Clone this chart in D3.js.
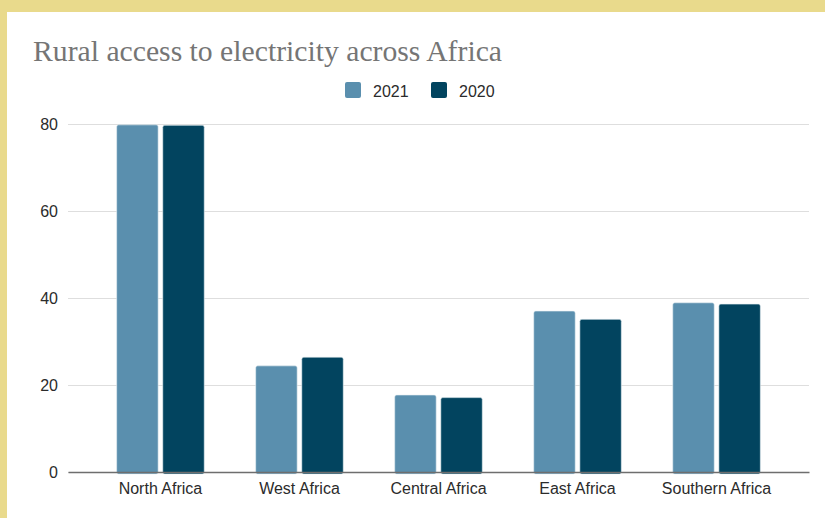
<!DOCTYPE html>
<html>
<head>
  <meta charset="utf-8">
  <title>Rural access to electricity across Africa</title>
  <script src="https://d3js.org/d3.v7.min.js"></script>
  <style>
    html, body { margin: 0; padding: 0; background: #e9da8c; }
    svg { display: block; }
  </style>
</head>
<body>
<div id="chart"></div>
<script>
  // data
  var regions = ["North Africa", "West Africa", "Central Africa", "East Africa", "Southern Africa"];
  var years = ["2021", "2020"];
  var values2021 = [79.8, 24.4, 17.7, 37.0, 38.9];
  var values2020 = [79.7, 26.4, 17.1, 35.1, 38.6];
  var yTicks = [0, 20, 40, 60, 80];
  var colors = ["#5a8fae", "#02445f"];

  var W = 825, H = 518;
  var margin = { top: 124, right: 16, bottom: 46, left: 68 };

  var svg = d3.select("#chart").append("svg")
    .attr("width", W)
    .attr("height", H);

  // white card on the yellow frame
  svg.append("rect")
    .attr("x", 7).attr("y", 12)
    .attr("width", W - 7).attr("height", H - 12)
    .attr("fill", "#ffffff");

  var x0 = d3.scaleBand()
    .domain(regions)
    .range([margin.left, W - margin.right])
    .paddingInner(0.37)
    .paddingOuter(0.35);

  var x1 = d3.scaleBand()
    .domain(years)
    .range([0, x0.bandwidth()])
    .paddingInner(0.1);

  var y = d3.scaleLinear()
    .domain([0, 80])
    .range([H - margin.bottom, margin.top]);

  // gridlines + y labels
  var yAxis = svg.append("g")
    .attr("transform", "translate(" + margin.left + ",0)")
    .call(d3.axisLeft(y)
      .tickValues(yTicks)
      .tickSize(-(W - margin.right - margin.left))
      .tickPadding(10));
  yAxis.select(".domain").remove();
  yAxis.selectAll(".tick line").attr("stroke", "#dedede").attr("stroke-width", 1.2);
  yAxis.selectAll(".tick text")
    .attr("fill", "#2b2b2b")
    .style("font-family", "Liberation Sans, Arial, sans-serif")
    .style("font-size", "16px");

  // bars
  var rows = regions.map(function (r, i) {
    return { region: r, vals: [values2021[i], values2020[i]] };
  });

  var groups = svg.append("g").selectAll("g")
    .data(rows)
    .join("g")
    .attr("transform", function (d) { return "translate(" + x0(d.region) + ",0)"; });

  groups.selectAll("rect")
    .data(function (d) { return d.vals.map(function (v, j) { return { year: years[j], v: v, j: j }; }); })
    .join("rect")
    .attr("x", function (d) { return x1(d.year); })
    .attr("y", function (d) { return y(d.v); })
    .attr("width", x1.bandwidth())
    .attr("height", function (d) { return y(0) - y(d.v) + 2; })
    .attr("rx", 2)
    .attr("fill", function (d) { return colors[d.j]; })
    .attr("stroke", "#e8f0f4")
    .attr("stroke-width", 0.6);

  // x axis baseline + labels
  var xAxis = svg.append("g")
    .attr("transform", "translate(0," + y(0) + ")")
    .call(d3.axisBottom(x0).tickSize(0).tickPadding(11));
  xAxis.select(".domain").attr("stroke", "#6e6e6e").attr("stroke-width", 1.5);
  xAxis.selectAll(".tick text")
    .attr("fill", "#2b2b2b")
    .style("font-family", "Liberation Sans, Arial, sans-serif")
    .style("font-size", "16px");

  // title
  svg.append("text")
    .attr("x", 33)
    .attr("y", 61)
    .attr("fill", "#757575")
    .style("font-family", "Liberation Serif, Times New Roman, serif")
    .style("font-size", "29px")
    .attr("textLength", 469)
    .attr("lengthAdjust", "spacingAndGlyphs")
    .text("Rural access to electricity across Africa");

  // legend
  var legendX = [345, 431];
  var legend = svg.append("g").selectAll("g")
    .data(years)
    .join("g")
    .attr("transform", function (d, i) { return "translate(" + legendX[i] + ",82)"; });
  legend.append("rect")
    .attr("width", 16).attr("height", 16).attr("rx", 2)
    .attr("fill", function (d, i) { return colors[i]; });
  legend.append("text")
    .attr("x", 28).attr("y", 14.5)
    .attr("fill", "#2b2b2b")
    .style("font-family", "Liberation Sans, Arial, sans-serif")
    .style("font-size", "16px")
    .text(function (d) { return d; });
</script>
</body>
</html>
